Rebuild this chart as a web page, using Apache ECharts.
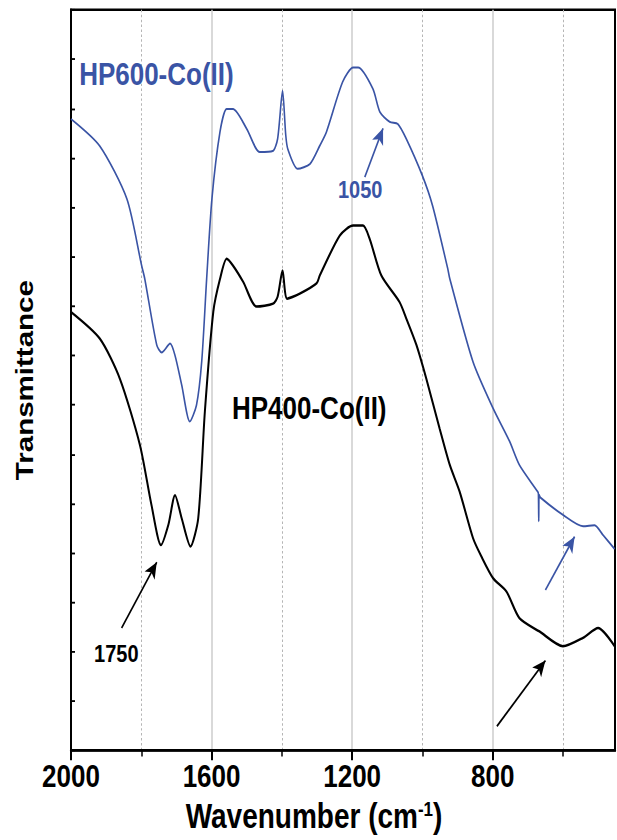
<!DOCTYPE html>
<html>
<head>
<meta charset="utf-8">
<script src="https://cdn.jsdelivr.net/npm/echarts@6/dist/echarts.min.js"></script>
<style>
  html, body { margin: 0; padding: 0; background: #fff; }
  #page { width: 617px; height: 840px; position: relative; overflow: hidden; }
  /* the figure is laid out at 617x683 and stretched vertically to 617x840 */
  #chart { position: absolute; left: 0; top: 0; width: 617px; height: 683px; transform: scaleY(1.23); transform-origin: 0 0; }
</style>
</head>
<body>
<div id="page"><div id="chart"></div></div>
<script>
// FTIR spectra, wavenumber (cm-1) vs transmittance (arbitrary units)
const hp600Wavenumber = [2000, 1918, 1841, 1799, 1790, 1756, 1742, 1718, 1704, 1685, 1662, 1643, 1628, 1614, 1599, 1576, 1557, 1539, 1500, 1463, 1426, 1412, 1398, 1389, 1383, 1355, 1320, 1292, 1273, 1227, 1197, 1183, 1141, 1121, 1093, 1070, 1046, 1000, 971, 928, 922, 856, 799, 752, 724, 672, 670, 669, 668, 664, 600, 543, 510, 487, 453];
const hp600T = [12.79, 12.24, 11.17, 9.82, 9.55, 8.21, 8.06, 8.24, 8.00, 7.40, 6.66, 6.99, 7.88, 9.55, 11.17, 12.53, 12.99, 12.99, 12.59, 12.12, 12.14, 12.39, 13.36, 12.47, 12.18, 11.78, 11.88, 12.25, 12.53, 13.54, 13.83, 13.83, 13.40, 12.93, 12.73, 12.69, 12.39, 11.64, 11.03, 9.76, 9.55, 7.87, 6.93, 6.26, 5.78, 5.24, 5.20, 4.64, 5.18, 5.12, 4.77, 4.54, 4.56, 4.37, 4.08];

const hp400Wavenumber = [2000, 1918, 1861, 1804, 1771, 1744, 1723, 1704, 1685, 1660, 1638, 1619, 1595, 1576, 1557, 1539, 1510, 1472, 1425, 1412, 1398, 1385, 1349, 1301, 1292, 1235, 1197, 1169, 1150, 1117, 1065, 1046, 1017, 989, 951, 922, 894, 856, 833, 799, 761, 724, 667, 600, 543, 500, 453];
const hp400T = [8.88, 8.34, 7.53, 6.19, 4.97, 4.16, 4.57, 5.17, 4.70, 4.13, 4.70, 6.87, 8.89, 9.55, 9.96, 9.82, 9.49, 8.99, 9.05, 9.19, 9.72, 9.15, 9.25, 9.46, 9.62, 10.43, 10.63, 10.63, 10.36, 9.62, 9.08, 8.75, 8.21, 7.53, 6.52, 5.78, 5.24, 4.30, 3.94, 3.49, 3.22, 2.68, 2.41, 2.11, 2.28, 2.48, 2.11];

const majorTicks = [2000, 1600, 1200, 800];
const minorTicks = [1800, 1400, 1000, 600];

const BLUE = '#3a54a5';
const FONT = 'Liberation Sans, Arial, sans-serif';

const pairs = (xs, ys) => xs.map((x, i) => [x, ys[i]]);

const textPoint = (name, coord, color, size) => ({
  name, coord, symbolSize: 0,
  label: { show: true, position: 'inside', formatter: '{b}', color, fontSize: size, fontWeight: 'bold', fontFamily: FONT }
});

const arrow = (from, to) => [{ coord: from }, { coord: to }];

const chart = echarts.init(document.getElementById('chart'), null, { renderer: 'svg' });
chart.setOption({
  animation: false,
  backgroundColor: '#fff',
  grid: { left: 71, right: 2, top: 8, bottom: 71, show: true, borderColor: '#000', borderWidth: 2, backgroundColor: 'transparent' },
  xAxis: [
    {
      type: 'value', gridIndex: 0, position: 'bottom', inverse: true, min: 452, max: 2000,
      axisLine: { show: true, lineStyle: { color: '#000', width: 2 } },
      axisTick: { show: true, customValues: majorTicks, length: 8, lineStyle: { color: '#000', width: 2 } },
      axisLabel: { customValues: majorTicks, formatter: v => String(v), color: '#000', fontSize: 26, fontWeight: 'bold', fontFamily: FONT, margin: 8 },
      splitLine: { show: true, lineStyle: { color: '#cccccc', width: 1.5 } },
      name: '{t|Wavenumber (cm}{s|-1}{t|)}',
      nameLocation: 'middle', nameGap: 36,
      nameTextStyle: {
        padding: [0, 58, 0, 0],
        rich: {
          t: { fontSize: 28, fontWeight: 'bold', color: '#000', fontFamily: FONT },
          s: { fontSize: 17, fontWeight: 'bold', color: '#000', fontFamily: FONT, padding: [0, 0, 13, 0] }
        }
      }
    },
    {
      type: 'value', gridIndex: 0, position: 'bottom', inverse: true, min: 452, max: 2000,
      axisLine: { show: false },
      axisTick: { show: true, customValues: minorTicks, length: 5, lineStyle: { color: '#000', width: 1.5 } },
      axisLabel: { show: false },
      splitLine: { show: true, lineStyle: { color: '#b5b5b5', width: 1, type: [2, 2] } }
    }
  ],
  yAxis: {
    type: 'value', min: 0, max: 15, interval: 1,
    axisLine: { show: true, lineStyle: { color: '#000', width: 2 } },
    axisTick: { show: true, inside: true, length: 4, lineStyle: { color: '#000', width: 1.5 } },
    axisLabel: { show: false },
    splitLine: { show: false },
    name: 'Transmittance', nameLocation: 'middle', nameGap: 34,
    nameTextStyle: { fontSize: 24, fontWeight: 'bold', color: '#000', fontFamily: FONT }
  },
  series: [
    {
      name: 'HP600-Co(II)', type: 'line', xAxisIndex: 0, data: pairs(hp600Wavenumber, hp600T),
      showSymbol: false, smooth: 0.25,
      lineStyle: { color: BLUE, width: 1.6 },
      markPoint: { silent: true, data: [
        textPoint('HP600-Co(II)', [1757, 13.70], BLUE, 26),
        textPoint('1050', [1177, 11.36], BLUE, 20)
      ] },
      markLine: { silent: true, symbol: ['none', 'arrow'], symbolSize: [9, 13], label: { show: false },
        lineStyle: { color: BLUE, width: 1.6, type: 'solid' },
        data: [arrow([1164, 11.61], [1112, 12.60]), arrow([650, 3.25], [567, 4.33])] }
    },
    {
      name: 'HP400-Co(II)', type: 'line', xAxisIndex: 0, data: pairs(hp400Wavenumber, hp400T),
      showSymbol: false, smooth: 0.25,
      lineStyle: { color: '#000', width: 2 },
      markPoint: { silent: true, data: [
        textPoint('HP400-Co(II)', [1322, 6.93], '#000', 26),
        textPoint('1750', [1871, 1.95], '#000', 20)
      ] },
      markLine: { silent: true, symbol: ['none', 'arrow'], symbolSize: [9, 13], label: { show: false },
        lineStyle: { color: '#000', width: 1.6, type: 'solid' },
        data: [arrow([1856, 2.48], [1756, 3.81]), arrow([788, 0.49], [650, 1.82])] }
    }
  ]
});
</script>
</body>
</html>
